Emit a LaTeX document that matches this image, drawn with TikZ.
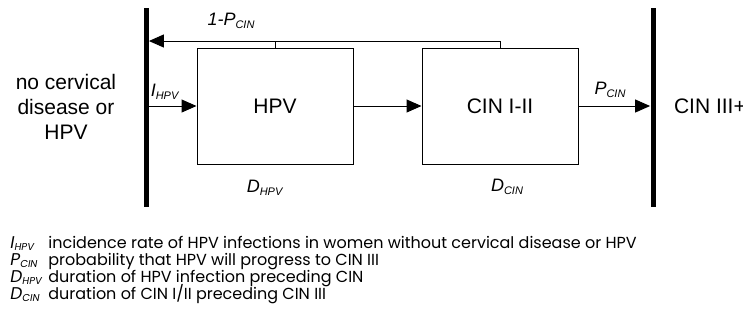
\documentclass[tikz,border=0pt]{standalone}
\usepackage{fontspec}
\setmainfont{Liberation Sans}
\newfontfamily\legendfont{Poppins}
\usetikzlibrary{arrows.meta}
\newcommand{\rate}[2]{\textit{#1}\raisebox{-0.35ex}{\fontsize{5.5}{6}\selectfont\textit{#2}}}
\newcommand{\legsym}[2]{{\fontsize{8.5}{9}\selectfont\textit{#1}}\raisebox{-0.3ex}{\fontsize{5}{5}\selectfont\textit{#2}}}
\begin{document}
\begin{tikzpicture}[x=0.5pt,y=-0.5pt,
  state/.style={draw,line width=0.5pt,minimum width=78pt,minimum height=58pt,font=\fontsize{10.5}{12.5}\selectfont},
  flow/.style={-{Triangle[length=7.5pt,width=6.5pt]},line width=0.5pt},
  bar/.style={fill=black,inner sep=0pt,minimum width=2.5pt,minimum height=99.5pt},
  lbl/.style={font=\fontsize{9}{10}\selectfont},
  txt/.style={font=\fontsize{10.5}{12.5}\selectfont,align=center},
  leg/.style={anchor=base west,inner sep=0pt,font=\legendfont\fontsize{8}{9}\selectfont}]
\useasboundingbox (0,0) rectangle (743,323);
\node[bar] (healthy) at (146,107.5) {};
\node[bar] (severe) at (653,107.5) {};
\node[state] (hpv) at (275,106) {HPV};
\node[state] (cin) at (500,106) {CIN I-II};
\node[txt] (nodis) at (66,107) {no cervical\\disease or\\HPV};
\node[txt,anchor=west] (cin3) at (667,106) {CIN III+};
\coordinate (back) at (500,41);

\path[draw,flow] (healthy.east |- hpv.west) -- (hpv.west);
\path[draw,flow] (hpv.east) -- (cin.west);
\path[draw,flow] (cin.east) -- (severe.west |- cin.east);
\path[draw,flow] (cin.north) -- (back) -- (healthy.east |- back);
\path[draw,line width=0.5pt] (hpv.north) -- (hpv.north |- back);

\node[lbl] (regress) at (231,21) {\rate{1-P}{CIN}};
\node[lbl] (inc) at (165,92) {\rate{I}{HPV}};
\node[lbl] (prog) at (610,90) {\rate{P}{CIN}};
\node[lbl] (durhpv) at (265,188) {\rate{D}{HPV}};
\node[lbl] (durcin) at (507,187) {\rate{D}{CIN}};

\node[leg] (s1) at (10,248) {\legsym{I}{HPV}};
\node[leg] (t1) at (48,248) {incidence rate of HPV infections in women without cervical disease or HPV};
\node[leg] (s2) at (10,265) {\legsym{P}{CIN}};
\node[leg] (t2) at (48,265) {probability that HPV will progress to CIN III};
\node[leg] (s3) at (10,282) {\legsym{D}{HPV}};
\node[leg] (t3) at (48,282) {duration of HPV infection preceding CIN};
\node[leg] (s4) at (10,299) {\legsym{D}{CIN}};
\node[leg] (t4) at (48,299) {duration of CIN I/II preceding CIN III};
\end{tikzpicture}
\end{document}
